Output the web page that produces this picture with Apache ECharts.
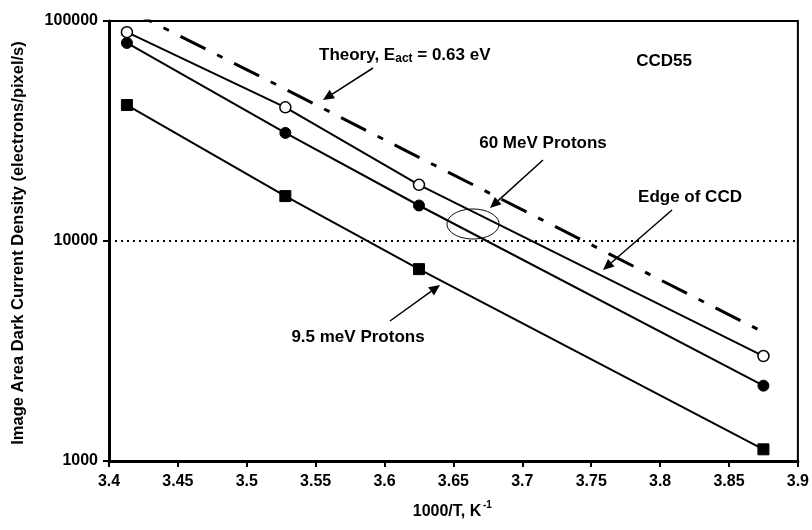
<!DOCTYPE html>
<html>
<head>
<meta charset="utf-8">
<script src="https://cdn.jsdelivr.net/npm/echarts@6/dist/echarts.min.js"></script>
<style>
html,body{margin:0;padding:0;background:#fff;}
#c{width:812px;height:530px;}
</style>
</head>
<body>
<div id="c"></div>
<script>
// Data
var invT = [3.413, 3.528, 3.625, 3.875];
var proton60Open = [89000, 40500, 18000, 3000];
var proton60Filled = [79500, 31000, 14500, 2200];
var proton95 = [41500, 16000, 7450, 1130];
var theory = [113000, 49000, 24000, 3850];
var edgeLevel = 10000;
var xTicks = {min: 3.4, max: 3.9, interval: 0.05};
var yTicks = {min: 1000, max: 100000};

function pairs(xs, ys) { return xs.map(function (x, i) { return [x, ys[i]]; }); }

var FONT = '"Liberation Sans", Arial, sans-serif';
var chart = echarts.init(document.getElementById('c'), null, {renderer: 'canvas'});

var option = {
  animation: false,
  backgroundColor: '#fff',
  grid: {left: 109, right: 14, top: 21, bottom: 69, show: true, borderColor: '#000', borderWidth: 2, backgroundColor: 'transparent'},
  xAxis: {
    type: 'value', min: xTicks.min, max: xTicks.max, interval: xTicks.interval,
    axisLine: {show: true, onZero: false, lineStyle: {color: '#000', width: 3}},
    axisTick: {show: true, inside: false, length: 6, lineStyle: {color: '#000', width: 2}},
    axisLabel: {color: '#000', fontFamily: FONT, fontWeight: 'bold', fontSize: 16, margin: 13,
      formatter: function (v) { return String(Math.round(v * 100) / 100); }},
    splitLine: {show: false}
  },
  yAxis: {
    type: 'log', logBase: 10, min: yTicks.min, max: yTicks.max,
    axisLine: {show: true, lineStyle: {color: '#000', width: 3}},
    axisTick: {show: true, inside: false, length: 6, lineStyle: {color: '#000', width: 2}},
    axisLabel: {color: '#000', fontFamily: FONT, fontWeight: 'bold', fontSize: 16, margin: 11,
      formatter: function (v) { return String(Math.round(v)); }},
    minorTick: {show: false},
    splitLine: {show: false}
  },
  series: [
    {
      name: 'Theory', type: 'line', data: pairs(invT, theory), symbol: 'none', clip: true,
      lineStyle: {color: '#000', width: 3, type: [28, 13, 6, 13]}, z: 2
    },
    {
      name: '60 MeV open', type: 'line', data: pairs(invT, proton60Open), symbol: 'circle', symbolSize: 11,
      itemStyle: {color: '#fff', borderColor: '#000', borderWidth: 1.5},
      lineStyle: {color: '#000', width: 2}, z: 3
    },
    {
      name: '60 MeV filled', type: 'line', data: pairs(invT, proton60Filled), symbol: 'circle', symbolSize: 11,
      itemStyle: {color: '#000', borderColor: '#000', borderWidth: 1},
      lineStyle: {color: '#000', width: 2}, z: 3
    },
    {
      name: '9.5 meV', type: 'line', data: pairs(invT, proton95), symbol: 'rect', symbolSize: 11,
      itemStyle: {color: '#000', borderColor: '#000', borderWidth: 1},
      lineStyle: {color: '#000', width: 2}, z: 3,
      markLine: {
        silent: true, symbol: ['none', 'none'], label: {show: false},
        lineStyle: {color: '#000', width: 2, type: [2, 4]},
        data: [{yAxis: edgeLevel}]
      }
    }
  ]
};
chart.setOption(option);

function arrow(x1, y1, x2, y2) {
  var ang = Math.atan2(y2 - y1, x2 - x1);
  var L = 11, W = 5;
  var bx = x2 - L * Math.cos(ang), by = y2 - L * Math.sin(ang);
  var px = -Math.sin(ang) * W, py = Math.cos(ang) * W;
  return [
    {type: 'line', shape: {x1: x1, y1: y1, x2: bx, y2: by}, style: {stroke: '#000', lineWidth: 1.5}, z: 10},
    {type: 'polygon', shape: {points: [[x2, y2], [bx + px, by + py], [bx - px, by - py]]}, style: {fill: '#000'}, z: 10}
  ];
}
function txt(x, y, text, align, size) {
  return {type: 'text', x: x, y: y, z: 10, style: {text: text, fill: '#000', font: 'bold ' + (size || 17) + 'px ' + FONT, textAlign: align || 'center', textVerticalAlign: 'middle'}};
}

var g = [];
// y axis title
g.push({type: 'text', x: 18, y: 243, rotation: Math.PI / 2, z: 10,
  style: {text: 'Image Area Dark Current Density (electrons/pixel/s)', fill: '#000', font: 'bold 16.5px ' + FONT, textAlign: 'center', textVerticalAlign: 'middle'}});
// x axis title
g.push({type: 'text', x: 447, y: 512, z: 10, style: {text: '1000/T, K', fill: '#000', font: 'bold 16px ' + FONT, textAlign: 'center', textVerticalAlign: 'middle'}});
g.push({type: 'text', x: 483, y: 505, z: 10, style: {text: '-1', fill: '#000', font: 'bold 10px ' + FONT, textAlign: 'left', textVerticalAlign: 'middle'}});
// Theory label
g.push({type: 'text', x: 319, y: 55, z: 10, style: {
  text: '{a|Theory, E}{s|act}{a| = 0.63 eV}', textAlign: 'left', textVerticalAlign: 'middle',
  rich: {a: {font: 'bold 17px ' + FONT, fill: '#000'}, s: {font: 'bold 12px ' + FONT, fill: '#000', padding: [8, 0, 0, 0]}}
}});
g.push(txt(664, 61, 'CCD55'));
g.push(txt(543, 143, '60 MeV Protons'));
g.push(txt(690, 197, 'Edge of CCD'));
g.push(txt(358, 337, '9.5 meV Protons'));
g = g.concat(arrow(373, 68, 323, 100));
g = g.concat(arrow(543, 160, 490, 208));
g = g.concat(arrow(672, 210, 603, 270));
g = g.concat(arrow(390, 321, 440, 285));
g.push({type: 'ellipse', shape: {cx: 473, cy: 224, rx: 26, ry: 15}, style: {fill: 'none', stroke: '#000', lineWidth: 1}, z: 10});
chart.setOption({graphic: g});
</script>
</body>
</html>
